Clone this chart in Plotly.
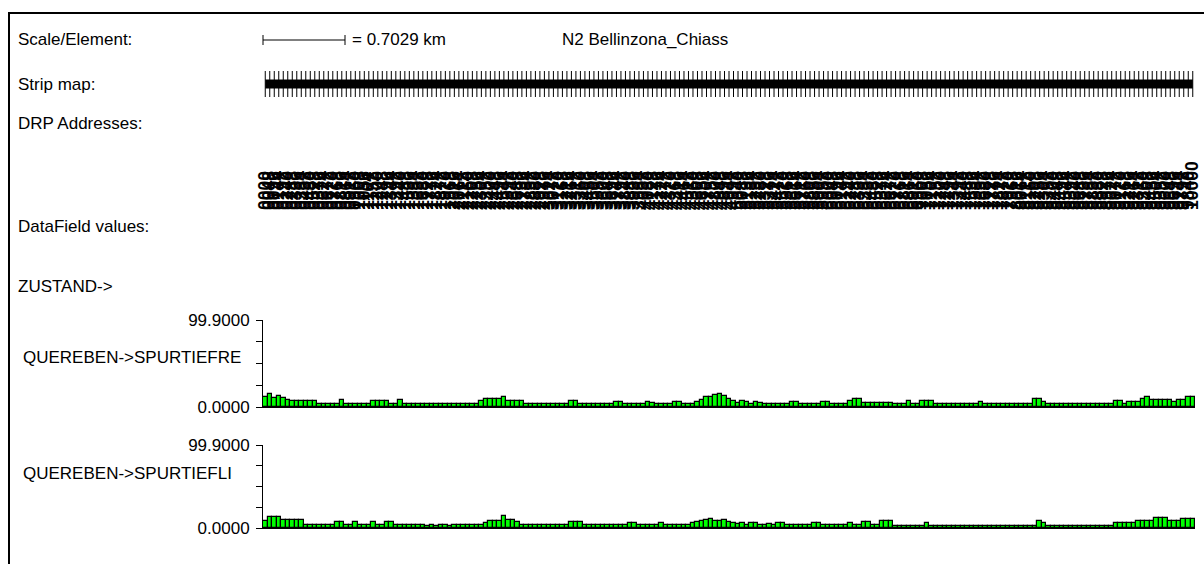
import plotly.graph_objects as go

W, H = 1204, 564

# ---------------- data ----------------
ELEMENTS = list(range(207))

SPURTIEFRE = [
    12, 15, 10, 13, 10, 8, 7, 7, 7, 7, 7, 7, 4, 4, 4, 4, 4, 8, 4, 4,
    4, 4, 4, 4, 7, 7, 7, 7, 4, 4, 8, 4, 4, 4, 4, 4, 4, 4, 4, 4,
    4, 4, 4, 4, 4, 4, 4, 4, 7, 9, 9, 9, 9, 12, 7, 7, 7, 7, 4, 4,
    4, 4, 4, 4, 4, 4, 4, 4, 7, 7, 4, 4, 4, 4, 4, 4, 4, 4, 6, 6,
    4, 4, 4, 4, 4, 6, 5, 4, 4, 4, 4, 6, 6, 4, 4, 4, 6, 8, 11, 12,
    14, 15, 13, 9, 7, 5, 7, 6, 4, 6, 5, 4, 4, 4, 4, 4, 4, 6, 6, 4,
    4, 4, 4, 4, 6, 6, 4, 4, 4, 4, 7, 9, 9, 5, 5, 5, 5, 5, 5, 5,
    3, 3, 3, 7, 4, 4, 7, 7, 7, 4, 4, 4, 4, 4, 4, 4, 4, 4, 4, 6,
    4, 4, 4, 4, 4, 4, 4, 4, 4, 4, 4, 9, 9, 6, 4, 4, 4, 4, 4, 4,
    4, 4, 4, 4, 4, 4, 4, 4, 4, 7, 7, 3, 6, 6, 6, 9, 11, 8, 8, 8,
    8, 8, 6, 8, 8, 11, 11,
]

SPURTIEFLI = [
    8, 13, 13, 13, 10, 10, 10, 10, 10, 4, 4, 4, 4, 4, 4, 4, 7, 7, 4, 4,
    7, 4, 4, 4, 7, 4, 4, 7, 7, 4, 4, 4, 4, 4, 4, 4, 2, 4, 2, 4,
    4, 2, 4, 4, 4, 4, 4, 4, 4, 6, 9, 9, 9, 15, 10, 10, 7, 4, 4, 4,
    4, 4, 4, 4, 4, 4, 4, 4, 7, 7, 7, 4, 4, 4, 4, 4, 4, 4, 4, 4,
    4, 6, 6, 4, 4, 4, 4, 4, 6, 4, 4, 4, 4, 4, 4, 6, 7, 9, 10, 11,
    9, 8, 10, 7, 6, 5, 6, 4, 6, 6, 4, 4, 5, 4, 6, 6, 4, 4, 4, 4,
    4, 4, 6, 6, 4, 4, 4, 4, 4, 4, 6, 4, 4, 7, 7, 4, 4, 8, 8, 8,
    3, 3, 3, 3, 3, 3, 3, 6, 3, 3, 3, 3, 3, 3, 3, 3, 3, 3, 3, 3,
    3, 3, 3, 3, 3, 3, 3, 3, 3, 3, 3, 3, 9, 6, 3, 3, 3, 3, 3, 3,
    3, 3, 3, 3, 3, 3, 3, 3, 3, 6, 6, 6, 6, 6, 9, 9, 9, 9, 12, 12,
    12, 9, 9, 9, 11, 11, 11,
]

DRP_ADDRESSES = (
    "0000 0048 0096 0144 0192 0240 0288 0336 0384 0432 "
    "0480 0528 0576 0624 0672 0720 0768 0816 0864 0912 "
    "0960 1008 1056 1104 1152 1200 1248 1296 1344 1392 "
    "1440 1488 1536 1584 1632 1680 1728 1776 1824 1872 "
    "1920 1968 2016 2064 2112 2160 2208 2256 2304 2352 "
    "2400 2448 2496 2544 2592 2640 2688 2736 2784 2832 "
    "2880 2928 2976 3024 3072 3120 3168 3216 3264 3312 "
    "3360 3408 3456 3504 3552 3600 3648 3696 3744 3792 "
    "3840 3888 3936 3984 4032 4080 4128 4176 4224 4272 "
    "4320 4368 4416 4464 4512 4560 4608 4656 4704 4752 "
    "4800 4848 4896 4944 4992 5040 5088 5136 5184 5232 "
    "5280 5328 5376 5424 5472 5520 5568 5616 5664 5712 "
    "5760 5808 5856 5904 5952 6000 6048 6096 6144 6192 "
    "6240 6288 6336 6384 6432 6480 6528 6576 6624 6672 "
    "6720 6768 6816 6864 6912 6960 7008 7056 7104 7152 "
    "7200 7248 7296 7344 7392 7440 7488 7536 7584 7632 "
    "7680 7728 7776 7824 7872 7920 7968 8016 8064 8112 "
    "8160 8208 8256 8304 8352 8400 8448 8496 8544 8592 "
    "8640 8688 8736 8784 8832 8880 8928 8976 9024 9072 "
    "9120 9168 9216 9264 9312 9360 9408 9456 9504 9552 "
    "9600 9648 9696 9744 9792 9840 10000"
).split()

Y_MAX = 99.9
Y_TICKS = [0, 24.975, 49.95, 74.925, 99.9]
Y_TICK_TEXT = ["0.0000", "", "", "", "99.9000"]
SCALE_KM = 0.7029
ROUTE = "N2 Bellinzona_Chiass"
FIELD_GROUP = "ZUSTAND->"
FIELD_R = "QUEREBEN->SPURTIEFRE"
FIELD_L = "QUEREBEN->SPURTIEFLI"

FONT = "Liberation Sans, Arial, sans-serif"
FS = 17
GREEN = "#00FF00"


def px(x):
    return x / W


def py(y):
    return 1 - y / H


X0, X1 = 263, 1195
XR = [-0.5, len(ELEMENTS) - 0.5]

fig = go.Figure()

# Strip map
fig.add_trace(go.Scatter(
    x=ELEMENTS, y=[0] * len(ELEMENTS), xaxis="x3", yaxis="y3",
    mode="lines+markers",
    line=dict(color="black", width=9),
    marker=dict(symbol="line-ns", size=25, color="black",
                line=dict(width=1, color="black")),
    hoverinfo="skip", showlegend=False,
))

# DRP address axis carrier
fig.add_trace(go.Scatter(
    x=ELEMENTS, y=[0] * len(ELEMENTS), xaxis="x4", yaxis="y4",
    mode="markers", marker=dict(opacity=0), hoverinfo="skip", showlegend=False,
))

# Data fields
for vals, xa, ya in [(SPURTIEFRE, "x", "y"), (SPURTIEFLI, "x2", "y2")]:
    fig.add_trace(go.Bar(
        x=ELEMENTS, y=vals, xaxis=xa, yaxis=ya,
        marker=dict(color=GREEN, line=dict(color="black", width=1.2)),
        hoverinfo="skip", showlegend=False,
    ))

xcommon = dict(domain=[px(X0), px(X1)], range=XR, showgrid=False,
               zeroline=False, automargin=False, fixedrange=True)
ycommon = dict(range=[0, Y_MAX], tickmode="array", tickvals=Y_TICKS,
               ticktext=Y_TICK_TEXT, ticks="outside", ticklen=6, tickwidth=1,
               tickcolor="black", showline=True, linecolor="black",
               linewidth=1, showgrid=False, zeroline=False,
               ticklabelstandoff=3,
               tickfont=dict(size=FS, color="black", family=FONT),
               automargin=False, fixedrange=True)

fig.update_layout(
    width=W, height=H, margin=dict(l=0, r=0, t=0, b=0),
    paper_bgcolor="white", plot_bgcolor="rgba(0,0,0,0)",
    template="none", bargap=0, showlegend=False,
    font=dict(family=FONT, size=FS, color="black"),
    xaxis=dict(**xcommon, anchor="y", showline=True, linecolor="black",
               linewidth=1, showticklabels=False, ticks=""),
    yaxis=dict(**ycommon, domain=[py(407), py(320)], anchor="x"),
    xaxis2=dict(**xcommon, anchor="y2", showline=True, linecolor="black",
                linewidth=1, showticklabels=False, ticks=""),
    yaxis2=dict(**ycommon, domain=[py(528), py(445)], anchor="x2"),
    xaxis3=dict(**xcommon, anchor="y3", showline=False,
                showticklabels=False, ticks=""),
    yaxis3=dict(domain=[py(97), py(71)], range=[-1, 1], visible=False,
                anchor="x3", fixedrange=True),
    xaxis4=dict(**xcommon, anchor="y4", side="top", showline=False,
                ticks="", tickmode="array", tickvals=ELEMENTS,
                ticktext=DRP_ADDRESSES, tickangle=-90,
                tickfont=dict(size=17.5, color="black", family=FONT,
                              weight="bold")),
    yaxis4=dict(domain=[py(212), py(211)], range=[-1, 1], visible=False,
                anchor="x4", fixedrange=True),
)

# Frame
fig.add_shape(type="line", xref="paper", yref="paper", x0=px(8), x1=px(1204),
              y0=py(13), y1=py(13), line=dict(color="black", width=2))
fig.add_shape(type="line", xref="paper", yref="paper", x0=px(9), x1=px(9),
              y0=py(13), y1=py(564), line=dict(color="black", width=2))

# Scale bar
SB0, SB1, SBY = 263, 345, 40
fig.add_shape(type="line", xref="paper", yref="paper", x0=px(SB0), x1=px(SB1),
              y0=py(SBY), y1=py(SBY), line=dict(color="black", width=1))
for xx in (SB0, SB1):
    fig.add_shape(type="line", xref="paper", yref="paper", x0=px(xx), x1=px(xx),
                  y0=py(SBY - 5), y1=py(SBY + 5), line=dict(color="black", width=1))


def label(text, x, y, size=FS):
    fig.add_annotation(text=text, x=px(x), y=py(y), xref="paper", yref="paper",
                       xanchor="left", yanchor="middle", showarrow=False,
                       font=dict(size=size, color="black", family=FONT))


label("Scale/Element:", 16, SBY)
label(f"= {SCALE_KM:.4f} km", SB1 + 5, SBY)
label(ROUTE, 560, SBY)
label("Strip map:", 16, 84)
label("DRP Addresses:", 16, 123)
label("DataField values:", 16, 226)
label(FIELD_GROUP, 16, 286)
label(FIELD_R, 21, 357)
label(FIELD_L, 21, 473)

fig.write_html("out.html", include_plotlyjs=True,
               config={"displayModeBar": False},
               post_script="document.body.style.margin='0';document.body.style.overflow='hidden';")
